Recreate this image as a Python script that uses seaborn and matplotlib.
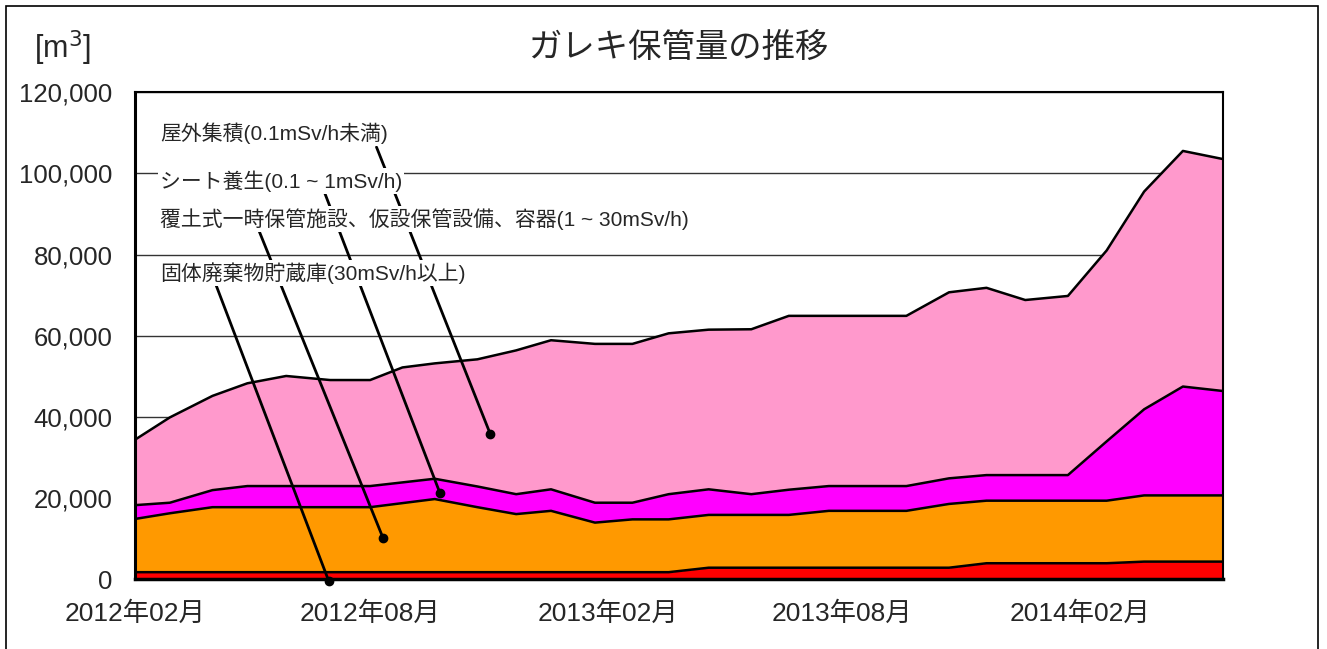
import numpy as np
import pandas as pd
import seaborn as sns
import matplotlib.pyplot as plt
from matplotlib.patches import Rectangle
from matplotlib.ticker import FuncFormatter, MultipleLocator

# Survey dates
dates = pd.to_datetime([
    "2012-02-01", "2012-02-28", "2012-04-01", "2012-04-28", "2012-05-28",
    "2012-07-01", "2012-08-01", "2012-08-26", "2012-09-20", "2012-10-23",
    "2012-11-22", "2012-12-19", "2013-01-22", "2013-02-20", "2013-03-20",
    "2013-04-20", "2013-05-23", "2013-06-21", "2013-07-22", "2013-08-22",
    "2013-09-20", "2013-10-23", "2013-11-21", "2013-12-21", "2014-01-23",
    "2014-02-22", "2014-03-23", "2014-04-22", "2014-05-23",
])

# Stored volume per category [m3]
solid_waste = [1800] * 15 + [2900] * 7 + [4000] * 4 + [4400] * 3
covered_soil = [13100, 14500, 16000, 16000, 16000, 16000, 16000, 17000, 18000, 16000,
                14300, 15100, 12200, 13000, 13000, 13000, 13000, 13000, 14000, 14000,
                14000, 15700, 15400, 15400, 15400, 15400, 16300, 16300, 16300]
sheet_cover = [3400, 2600, 4200, 5200, 5200, 5200, 5200, 5100, 5000, 5100,
               4900, 5300, 4900, 4100, 6200, 6300, 5100, 6200, 6100, 6100,
               6100, 6300, 6300, 6300, 6300, 14600, 21200, 26800, 25700]
outdoor = [16100, 21000, 23200, 25300, 27100, 26100, 26100, 28300, 28400, 31300,
           35400, 36700, 39100, 39100, 39600, 39300, 40600, 42800, 41900, 41900,
           41900, 45800, 46100, 43100, 44100, 47000, 53600, 58000, 57100]

series_names = [
    "固体廃棄物貯蔵庫(30mSv/h以上)",
    "覆土式一時保管施設、仮設保管設備、容器(1 ~ 30mSv/h)",
    "シート養生(0.1 ~ 1mSv/h)",
    "屋外集積(0.1mSv/h未満)",
]
colors = ["#FF0000", "#FF9900", "#FF00FF", "#FF99CC"]

tick_dates = pd.to_datetime(["2012-02-01", "2012-08-01", "2013-02-01", "2013-08-01", "2014-02-01"])

# label anchor points (date, value) for the leader-line dots
label_points = [("2012-06-30", -400), ("2012-08-11", 10200), ("2012-09-24", 21300), ("2012-11-02", 35800)]

sns.set_style("white")
plt.rcParams["font.family"] = ["Liberation Sans", "Noto Sans CJK JP"]

fig = plt.figure(figsize=(13.27, 6.49), dpi=100)
ax = fig.add_axes([0.1017, 0.1071, 0.8199, 0.7511])

layers = [solid_waste, covered_soil, sheet_cover, outdoor]
lower = np.zeros(len(dates))
for vals, col in zip(layers, colors):
    upper = lower + np.array(vals)
    ax.fill_between(dates, lower, upper, color=col, lw=0, zorder=2)
    sns.lineplot(x=dates, y=upper, color="black", lw=1.8, ax=ax, zorder=2.5)
    lower = upper

ax.set_xlim(dates[0], dates[-1])
ax.set_ylim(0, 120000)
ax.yaxis.set_major_locator(MultipleLocator(20000))
ax.yaxis.set_major_formatter(FuncFormatter(lambda v, p: f"{v:,.0f}"))
ax.grid(axis="y", color="#333333", lw=1, zorder=1)
ax.set_xticks(tick_dates)
ax.set_xticklabels([d.strftime("%Y年%m月") for d in tick_dates])
ax.tick_params(axis="x", direction="in", length=6, width=1, pad=16, labelsize=19, color="black")
ax.tick_params(axis="y", direction="out", length=4, width=1, pad=12, labelsize=18.5, color="black")
ax.set_xlabel("")
ax.set_ylabel("")
for s in ax.spines.values():
    s.set_color("black")
    s.set_linewidth(1.5)
    s.set_zorder(3)
ax.spines["bottom"].set_linewidth(2.5)
ax.spines["left"].set_linewidth(2.2)

# series labels with leader lines
text_pos = [(0.023, 0.629), (0.023, 0.740), (0.023, 0.817), (0.023, 0.916)]
line_start = [(0.0735, 0.610), (0.113, 0.721), (0.172, 0.807), (0.222, 0.887)]
for name, tp, ls, (d, v) in zip(series_names, text_pos, line_start, label_points):
    ax.annotate("", xy=(pd.Timestamp(d), v), xycoords="data", xytext=ls, textcoords="axes fraction",
                arrowprops=dict(arrowstyle="-", color="black", lw=2, shrinkA=0, shrinkB=0),
                zorder=4, annotation_clip=False)
    ax.plot(pd.Timestamp(d), v, "o", ms=6, color="black", clip_on=False, zorder=4)
    ax.text(tp[0], tp[1], name, transform=ax.transAxes, ha="left", va="center", fontsize=15,
            bbox=dict(facecolor="white", edgecolor="none", pad=1.5), zorder=5)

fig.text(0.511, 0.926, "ガレキ保管量の推移", ha="center", va="center", fontsize=24)
fig.text(0.047, 0.926, "[m$^3$]", ha="center", va="center", fontsize=22)

fig.add_artist(Rectangle((0.0045, -0.02), 0.9887, 1.0108, transform=fig.transFigure,
                         fill=False, edgecolor="black", lw=1.2))

fig.savefig("out.png", dpi=100)
